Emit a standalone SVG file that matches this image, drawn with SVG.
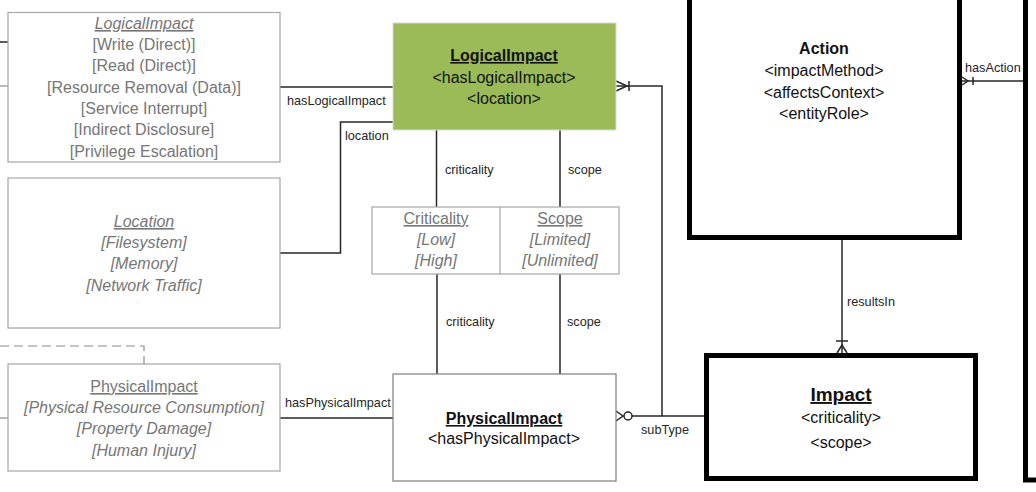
<svg xmlns="http://www.w3.org/2000/svg" width="1036" height="492" viewBox="0 0 1036 492">
<style>
text{font-family:"Liberation Sans",Arial,sans-serif;}
.g{fill:#767676;font-size:16px;text-anchor:middle;}
.i{font-style:italic;}
.u{text-decoration:underline;}
.k{fill:#111;font-size:16px;text-anchor:middle;}
.b{font-weight:bold;}
.lb{fill:#262626;font-size:12.7px;}
.enum{fill:#fff;stroke:#a6a6a6;stroke-width:1.2;}
.ent{fill:#fff;stroke:#000;stroke-width:5;}
.ln{fill:none;stroke:#262626;stroke-width:1.5;}
.lg{fill:none;stroke:#8c8c8c;stroke-width:1.2;}
</style>
<rect width="1036" height="492" fill="#fff"/>

<g id="connectors">
  <line class="ln" x1="0" y1="42" x2="8" y2="42"/>
  <line class="lg" x1="0" y1="86" x2="8" y2="86"/>
  <line class="lg" x1="0" y1="418" x2="8" y2="418"/>
  <path class="lg" d="M0,346 H144 V364" stroke-dasharray="9,5"/>
  <line class="ln" x1="280" y1="87" x2="393" y2="87"/>
  <path class="ln" d="M280,253 H340.5 V122 H393"/>
  <line class="ln" x1="436.5" y1="130" x2="436.5" y2="207"/>
  <line class="ln" x1="560" y1="130" x2="560" y2="207"/>
  <line class="ln" x1="437" y1="274" x2="437" y2="374"/>
  <line class="ln" x1="560" y1="274" x2="560" y2="374"/>
  <line class="ln" x1="280" y1="418" x2="393" y2="418"/>
  <path class="ln" d="M616,86 H662 V416"/>
  <path class="ln" d="M616,81 L627,86 L616,91"/>
  <line class="ln" x1="629" y1="81" x2="629" y2="91"/>
  <path class="ln" d="M616,411 L623,416 L616,421"/>
  <circle cx="628" cy="416" r="4" fill="#fff" stroke="#262626" stroke-width="1.5"/>
  <line class="ln" x1="632" y1="416" x2="705" y2="416"/>
  <line class="ln" x1="842" y1="240" x2="842" y2="353"/>
  <line class="ln" x1="836" y1="341" x2="848" y2="341"/>
  <path class="ln" d="M837,353 L842,345 L847,353"/>
  <line class="ln" x1="962" y1="81" x2="1024" y2="81"/>
  <path class="ln" d="M962,77 L968,81 L962,85"/>
  <line class="ln" x1="973" y1="77" x2="973" y2="85"/>
  <text class="lb" x="287" y="105">hasLogicalImpact</text>
  <text class="lb" x="345" y="140">location</text>
  <text class="lb" x="445" y="174">criticality</text>
  <text class="lb" x="568" y="174">scope</text>
  <text class="lb" x="446" y="326">criticality</text>
  <text class="lb" x="567" y="326">scope</text>
  <text class="lb" x="285" y="407">hasPhysicalImpact</text>
  <text class="lb" x="641" y="434">subType</text>
  <text class="lb" x="847" y="306">resultsIn</text>
  <text class="lb" x="965" y="72">hasAction</text>
</g>

<g id="enum-logicalimpact">
  <rect class="enum" x="8" y="12.5" width="272" height="149.5"/>
  <text class="g i u" x="144" y="29">LogicalImpact</text>
  <text class="g" x="144" y="50">[Write (Direct)]</text>
  <text class="g" x="144" y="71">[Read (Direct)]</text>
  <text class="g" x="144" y="93">[Resource Removal (Data)]</text>
  <text class="g" x="144" y="114">[Service Interrupt]</text>
  <text class="g" x="144" y="135">[Indirect Disclosure]</text>
  <text class="g" x="144" y="157">[Privilege Escalation]</text>
</g>

<g id="enum-location">
  <rect class="enum" x="8" y="178" width="272" height="150"/>
  <text class="g i u" x="144" y="227">Location</text>
  <text class="g i" x="144" y="248">[Filesystem]</text>
  <text class="g i" x="144" y="269">[Memory]</text>
  <text class="g i" x="144" y="291">[Network Traffic]</text>
</g>

<g id="enum-physicalimpact">
  <rect class="enum" x="8" y="364" width="272" height="107"/>
  <text class="g u" x="144" y="392">PhysicalImpact</text>
  <text class="g i" x="144" y="413">[Physical Resource Consumption]</text>
  <text class="g i" x="144" y="434">[Property Damage]</text>
  <text class="g i" x="144" y="456">[Human Injury]</text>
</g>

<g id="logicalimpact">
  <rect x="393" y="23" width="223" height="107" fill="#9bbb59" stroke="#d9d9d9" stroke-width="1"/>
  <text class="k b u" x="504" y="61">LogicalImpact</text>
  <text class="k" x="504" y="83">&lt;hasLogicalImpact&gt;</text>
  <text class="k" x="504" y="104">&lt;location&gt;</text>
</g>

<g id="enum-criticality-scope">
  <rect class="enum" x="372" y="207" width="247" height="67"/>
  <line class="enum" x1="500" y1="207" x2="500" y2="274"/>
  <text class="g u" x="436" y="224">Criticality</text>
  <text class="g i" x="436" y="245">[Low]</text>
  <text class="g i" x="436" y="266">[High]</text>
  <text class="g u" x="560" y="224">Scope</text>
  <text class="g i" x="560" y="245">[Limited]</text>
  <text class="g i" x="560" y="266">[Unlimited]</text>
</g>

<g id="physicalimpact">
  <rect x="393" y="374" width="223" height="107" fill="#fff" stroke="#7f7f7f" stroke-width="1.2"/>
  <text class="k b u" x="504" y="424">PhysicalImpact</text>
  <text class="k" x="504" y="444">&lt;hasPhysicalImpact&gt;</text>
</g>

<g id="action">
  <rect class="ent" x="689.5" y="-10" width="270" height="247.5"/>
  <text class="k b" x="824" y="54">Action</text>
  <text class="k" x="824" y="76">&lt;impactMethod&gt;</text>
  <text class="k" x="824" y="98">&lt;affectsContext&gt;</text>
  <text class="k" x="824" y="119">&lt;entityRole&gt;</text>
</g>

<g id="impact">
  <rect class="ent" x="706.5" y="355.5" width="269" height="123"/>
  <text class="k b u" x="841" y="401" style="font-size:19px">Impact</text>
  <text class="k" x="841" y="423">&lt;criticality&gt;</text>
  <text class="k" x="841" y="448">&lt;scope&gt;</text>
</g>

<g id="right-entity">
  <rect class="ent" x="1025.5" y="-10" width="30" height="490"/>
</g>
</svg>
